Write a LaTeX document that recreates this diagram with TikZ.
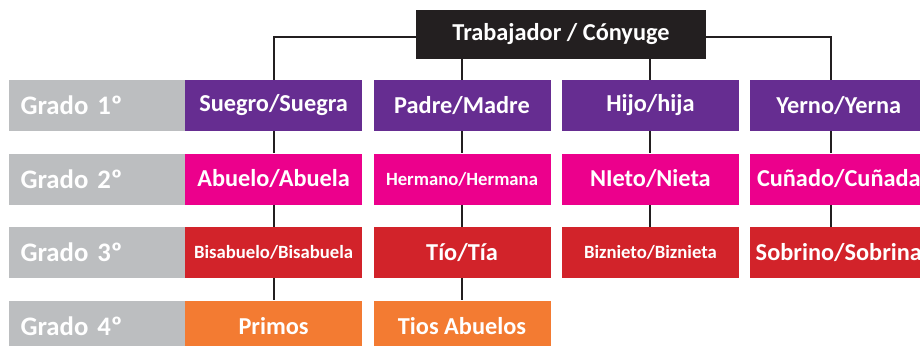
\documentclass[tikz,border=0pt]{standalone}
\usepackage{fontspec}
\setmainfont{Carlito}
\usepackage{tikz}
\usetikzlibrary{positioning}

\definecolor{grisg}{HTML}{BCBEC0}
\definecolor{negro}{HTML}{231F20}
\definecolor{morado}{HTML}{662D91}
\definecolor{rosa}{HTML}{EC008C}
\definecolor{rojo}{HTML}{D2232A}
\definecolor{naranja}{HTML}{F37B32}

\tikzset{
  caja/.style={minimum width=4.425cm, minimum height=1.275cm, inner sep=0pt,
    text=white, font=\bfseries\fontsize{17.3}{19}\selectfont},
  chica/.style={font=\bfseries\fontsize{13.3}{15}\selectfont},
  grado/.style={fill=grisg, minimum height=1.275cm, inner xsep=0.3cm,
    text width=3.8cm, align=left, text=white,
    font=\bfseries\fontsize{19}{21}\selectfont},
  linea/.style={draw=negro, line width=1.3pt}
}

\begin{document}
\begin{tikzpicture}
      \useasboundingbox (0,0) rectangle (23,8.625);
      \node[caja, fill=negro, minimum width=7.25cm, minimum height=1.225cm] (trab) at (14.025,7.7625) {Trabajador / Cónyuge};
      % grado 1
      \node[caja, fill=morado] (suegro) at (6.84,5.99) {Suegro/Suegra};
      \node[caja, fill=morado] (padre) at (11.55,5.99) {Padre/Madre};
      \node[caja, fill=morado] (hijo) at (16.26,5.99) {Hijo/hija};
      \node[caja, fill=morado] (yerno) at (20.97,5.99) {Yerno/Yerna};
      % grado 2
      \node[caja, fill=rosa] (abuelo) at (6.84,4.15) {Abuelo/Abuela};
      \node[caja, chica, fill=rosa] (hermano) at (11.55,4.15) {Hermano/Hermana};
      \node[caja, fill=rosa] (nieto) at (16.26,4.15) {NIeto/Nieta};
      \node[caja, fill=rosa] (cunado) at (20.97,4.15) {Cuñado/Cuñada};
      % grado 3
      \node[caja, chica, fill=rojo] (bisabuelo) at (6.84,2.31) {Bisabuelo/Bisabuela};
      \node[caja, fill=rojo] (tio) at (11.55,2.31) {Tío/Tía};
      \node[caja, chica, fill=rojo] (biznieto) at (16.26,2.31) {Biznieto/Biznieta};
      \node[caja, fill=rojo] (sobrino) at (20.97,2.31) {Sobrino/Sobrina};
      % grado 4
      \node[caja, fill=naranja] (primos) at (6.84,0.475) {Primos};
      \node[caja, fill=naranja] (tiosab) at (11.55,0.475) {Tios Abuelos};
      % etiquetas de grado
      \node[grado, left=0 of suegro] (g1) {Grado 1º};
      \node[grado, left=0 of abuelo] (g2) {Grado 2º};
      \node[grado, left=0 of bisabuelo] (g3) {Grado 3º};
      \node[grado, left=0 of primos] (g4) {Grado 4º};
      % lineas
      \draw[linea] ([yshift=-0.06cm]trab.west) -| (suegro.north);
      \draw[linea] ([yshift=-0.06cm]trab.east) -| ([xshift=-0.2cm]yerno.north);
      \draw[linea] (padre.north) -- (padre.north |- trab.south);
      \draw[linea] (hijo.north) -- (hijo.north |- trab.south);
      \draw[linea] (suegro) -- (abuelo) (abuelo) -- (bisabuelo) (bisabuelo) -- (primos);
      \draw[linea] (padre) -- (hermano) (hermano) -- (tio) (tio) -- (tiosab);
      \draw[linea] (hijo) -- (nieto) (nieto) -- (biznieto);
      \draw[linea] ([xshift=-0.2cm]yerno.south) -- ([xshift=-0.2cm]cunado.north)
        ([xshift=-0.2cm]cunado.south) -- ([xshift=-0.2cm]sobrino.north);
    \end{tikzpicture}
\end{document}
